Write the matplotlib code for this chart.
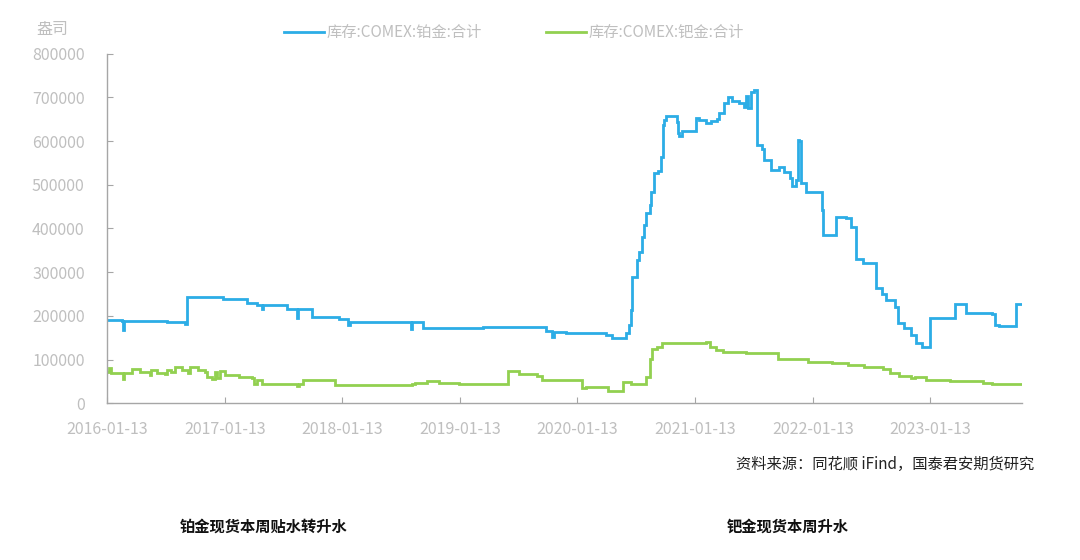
import pandas as pd
import matplotlib.pyplot as plt
import matplotlib.dates as mdates
from matplotlib.ticker import FixedLocator

plt.rcParams['font.family'] = ['Noto Sans CJK SC', 'DejaVu Sans']

# COMEX inventory, step breakpoints (decimal year, thousand ounces)
pt_years = [2016.03, 2016.16, 2016.17, 2016.18, 2016.54, 2016.70, 2016.71, 2017.02, 2017.22,
            2017.31, 2017.35, 2017.36, 2017.56, 2017.65, 2017.66, 2017.78, 2018.01, 2018.08,
            2018.10, 2018.62, 2018.63, 2018.72, 2019.23, 2019.63, 2019.77, 2019.82, 2019.83,
            2019.94, 2020.28, 2020.33, 2020.42, 2020.45, 2020.47, 2020.49, 2020.50, 2020.54,
            2020.56, 2020.58, 2020.60, 2020.62, 2020.65, 2020.66, 2020.68, 2020.72, 2020.74,
            2020.76, 2020.77, 2020.79, 2020.86, 2020.88, 2020.89, 2020.90, 2020.92, 2021.03,
            2021.04, 2021.07, 2021.13, 2021.17, 2021.22, 2021.24, 2021.28, 2021.31, 2021.35,
            2021.41, 2021.45, 2021.47, 2021.48, 2021.51, 2021.53, 2021.56, 2021.60, 2021.62,
            2021.68, 2021.75, 2021.79, 2021.84, 2021.86, 2021.89, 2021.91, 2021.92, 2021.93,
            2021.98, 2022.07, 2022.11, 2022.12, 2022.22, 2022.23, 2022.32, 2022.36, 2022.40,
            2022.46, 2022.56, 2022.57, 2022.62, 2022.66, 2022.73, 2022.76, 2022.81, 2022.87,
            2022.91, 2022.96, 2023.01, 2023.03, 2023.22, 2023.24, 2023.31, 2023.34, 2023.56,
            2023.58, 2023.62, 2023.75, 2023.76, 2023.81]
pt_values = [190, 188, 167, 188, 186, 181, 242, 238, 230,
             224, 215, 224, 215, 195, 215, 197, 192, 179,
             186, 170, 185, 172, 175, 175, 166, 152, 163,
             161, 156, 150, 150, 160, 179, 213, 289, 328,
             347, 381, 408, 435, 453, 484, 528, 532, 564,
             637, 648, 657, 657, 644, 618, 612, 624, 624,
             652, 648, 641, 647, 650, 665, 688, 700, 692,
             688, 679, 703, 676, 713, 717, 591, 583, 557,
             534, 540, 530, 515, 497, 511, 603, 600, 504,
             484, 484, 442, 385, 385, 427, 423, 404, 331,
             321, 321, 263, 251, 236, 221, 183, 173, 156,
             137, 129, 129, 196, 196, 228, 228, 207, 205,
             179, 176, 176, 227, 227]

pd_years = [2016.03, 2016.05, 2016.07, 2016.17, 2016.18, 2016.25, 2016.31, 2016.40, 2016.41,
            2016.46, 2016.53, 2016.54, 2016.58, 2016.61, 2016.67, 2016.72, 2016.74, 2016.81,
            2016.87, 2016.88, 2016.93, 2016.95, 2016.97, 2016.99, 2017.04, 2017.16, 2017.27,
            2017.28, 2017.31, 2017.35, 2017.65, 2017.67, 2017.70, 2017.97, 2018.63, 2018.65,
            2018.75, 2018.86, 2019.03, 2019.44, 2019.54, 2019.69, 2019.73, 2020.07, 2020.11,
            2020.29, 2020.42, 2020.49, 2020.62, 2020.65, 2020.67, 2020.71, 2020.75, 2021.13,
            2021.16, 2021.21, 2021.27, 2021.47, 2021.74, 2021.99, 2022.20, 2022.33, 2022.47,
            2022.63, 2022.69, 2022.77, 2022.87, 2022.90, 2023.00, 2023.20, 2023.48, 2023.56,
            2023.81]
pd_values = [72, 80, 70, 55, 69, 79, 72, 64, 76,
             70, 66, 76, 71, 83, 75, 69, 83, 77,
             72, 59, 55, 72, 57, 74, 64, 60, 57,
             44, 53, 44, 39, 45, 54, 41, 43, 47,
             50, 46, 43, 74, 66, 63, 54, 34, 36,
             29, 49, 45, 60, 102, 125, 129, 137, 140,
             129, 121, 117, 115, 102, 95, 91, 87, 82,
             79, 68, 62, 57, 60, 53, 50, 47, 43,
             43]

series_names = ['库存:COMEX:铂金:合计', '库存:COMEX:钯金:合计']
tick_dates = ['2016-01-13', '2017-01-13', '2018-01-13', '2019-01-13',
              '2020-01-13', '2021-01-13', '2022-01-13', '2023-01-13']


def to_dates(years):
    return [pd.Timestamp('2016-01-01') + pd.to_timedelta((y - 2016) * 365.25, unit='D') for y in years]


pt_x = to_dates(pt_years)
pd_x = to_dates(pd_years)

blue = '#2CADE6'
green = '#92D050'
label_grey = '#BFBFBF'
axis_grey = '#A6A6A6'

fig = plt.figure(figsize=(10.8, 5.6), dpi=100)
ax = fig.add_axes([0.099, 0.280, 0.847, 0.624])

ax.plot(pt_x, [v * 1000 for v in pt_values], drawstyle='steps-post', color=blue,
        linewidth=2.0, label=series_names[0], solid_joinstyle='miter')
ax.plot(pd_x, [v * 1000 for v in pd_values], drawstyle='steps-post', color=green,
        linewidth=2.0, label=series_names[1], solid_joinstyle='miter')

ax.set_ylim(0, 800000)
ax.set_yticks(range(0, 800001, 100000))
ax.set_xlim(pd.Timestamp('2016-01-13'), pt_x[-1])

ticks = [mdates.date2num(pd.Timestamp(d)) for d in tick_dates]
ax.xaxis.set_major_locator(FixedLocator(ticks))
ax.set_xticklabels(tick_dates)

for side in ['top', 'right']:
    ax.spines[side].set_visible(False)
for side in ['left', 'bottom']:
    ax.spines[side].set_color(axis_grey)
    ax.spines[side].set_linewidth(1.0)

ax.tick_params(axis='both', direction='in', length=4, color=axis_grey,
               labelcolor=label_grey, labelsize=11.5)
ax.tick_params(axis='x', pad=13)
ax.tick_params(axis='y', pad=16)

fig.text(0.034, 0.948, '盎司', color=label_grey, fontsize=11.5, va='center', ha='left')

fig.legend(loc='center', bbox_to_anchor=(0.476, 0.942), ncol=2, frameon=False,
           fontsize=11, labelcolor=label_grey, handlelength=2.6, handletextpad=0.2,
           columnspacing=4.2)

fig.text(0.958, 0.171, '资料来源：同花顺 iFind，国泰君安期货研究', fontsize=11,
         ha='right', va='center', color='#222222')
fig.text(0.166, 0.059, '铂金现货本周贴水转升水', fontsize=11, fontweight='bold',
         ha='left', va='center', color='#111111')
fig.text(0.673, 0.059, '钯金现货本周升水', fontsize=11, fontweight='bold',
         ha='left', va='center', color='#111111')

fig.savefig('out.png', dpi=100)
